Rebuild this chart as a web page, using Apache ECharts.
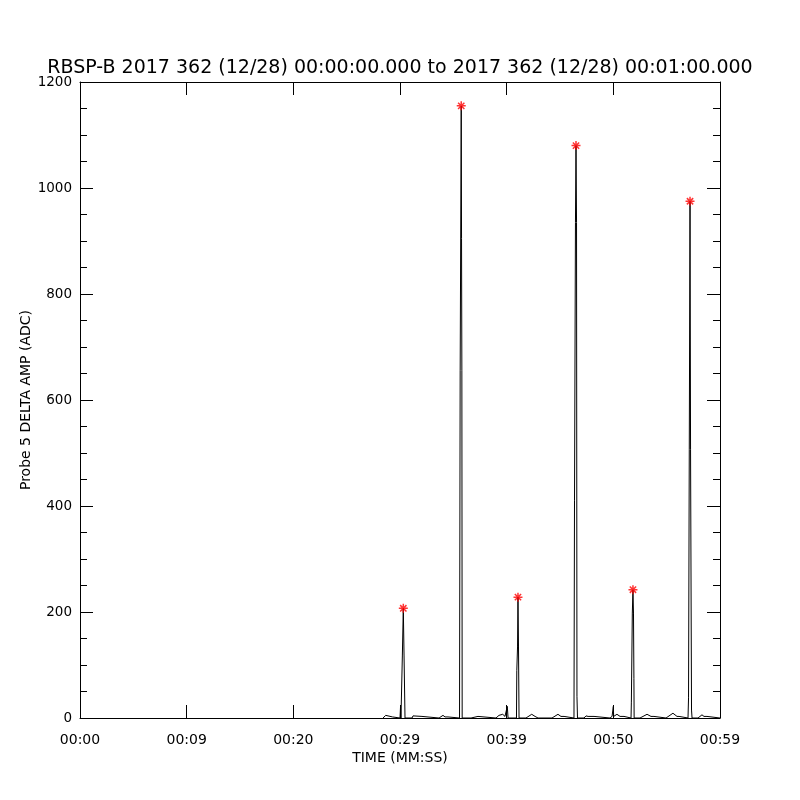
<!DOCTYPE html>
<html>
<head>
<meta charset="utf-8">
<script src="https://cdn.jsdelivr.net/npm/echarts@6/dist/echarts.min.js"></script>
<style>html,body{margin:0;padding:0;background:#fff;}#c{width:800px;height:800px;}</style>
</head>
<body>
<div id="c"></div>
<script>
// Time in seconds from 00:00:00, amplitude in ADC
var traceTime = [
  28.41, 28.66, 28.83, 29.30, 29.39,
  30.00, 30.05, 30.09,
  30.19, 30.22, 30.31, 30.38, 30.44, 30.47,
  31.13, 31.22, 31.31, 32.06, 32.16,
  33.66, 34.03, 34.22, 34.50, 34.59,
  35.58, 35.64, 35.74, 35.77, 35.80, 35.83,
  36.66, 36.75, 37.31, 37.41,
  39.00, 39.28, 39.63, 39.84, 39.98, 40.06, 40.13,
  40.92, 40.95, 41.02, 41.06, 41.11, 41.16,
  41.81, 42.35, 42.66, 42.84, 42.94,
  44.25, 44.81, 45.09, 45.38, 45.47,
  46.31, 46.36, 46.45, 46.50, 46.55, 46.59, 46.64,
  47.25, 47.44, 47.63, 48.19, 48.28,
  49.69, 49.88, 50.00, 50.03, 50.34, 50.63, 51.00, 51.09,
  51.66, 51.69, 51.78, 51.84, 51.89, 51.93, 51.95,
  52.50, 53.16, 53.53, 53.81, 53.91,
  54.94, 55.59, 55.97, 56.16, 56.25,
  57.00, 57.05, 57.12, 57.19, 57.24, 57.33, 57.38,
  57.94, 58.31, 58.50, 58.78, 58.88,
  60.00
];
var traceAmp = [
  0, 5, 2, 2, 0,
  0, 22, 0,
  0, 117, 207, 117, 117, 0,
  0, 4, 3, 3, 0,
  0, 5, 2, 2, 0,
  0, 655, 1155, 905, 655, 0,
  0, 3, 3, 0,
  0, 5, 7, 3, 3, 22, 0,
  0, 90, 134, 228, 134, 0,
  0, 7, 3, 3, 0,
  0, 7, 3, 3, 0,
  0, 411, 935, 1080, 935, 41, 0,
  0, 4, 3, 3, 0,
  0, 3, 22, 3, 7, 3, 3, 0,
  0, 30, 198, 242, 198, 75, 0,
  0, 7, 3, 3, 0,
  0, 9, 3, 3, 0,
  0, 38, 506, 975, 506, 15, 0,
  0, 6, 3, 3, 0,
  0
];
var peakTime = [30.31, 35.74, 41.06, 46.50, 51.84, 57.19];
var peakAmp = [207, 1155, 228, 1080, 242, 975];
var xTickValues = [0, 10, 20, 30, 40, 50, 60];
var xTickLabels = ['00:00', '00:09', '00:20', '00:29', '00:39', '00:50', '00:59'];
var titleText = 'RBSP-B 2017 362 (12/28) 00:00:00.000 to 2017 362 (12/28) 00:01:00.000';

var trace = traceTime.map(function (t, i) { return [t, traceAmp[i]]; });
var peaks = peakTime.map(function (t, i) { return [t, peakAmp[i]]; });

var FONT = 'DejaVu Sans';
var chart = echarts.init(document.getElementById('c'), null, {renderer: 'canvas'});
var xBase = {
  type: 'value', min: 0, max: 60, interval: 10,
  axisLine: {show: true, onZero: false, lineStyle: {color: '#000', width: 1}},
  axisTick: {show: true, inside: true, length: 13, lineStyle: {color: '#000'}},
  splitLine: {show: false}
};
var yBase = {
  type: 'value', min: 0, max: 1200, interval: 200,
  axisLine: {show: true, onZero: false, lineStyle: {color: '#000', width: 1}},
  axisTick: {show: true, inside: true, length: 13, lineStyle: {color: '#000'}},
  minorTick: {show: true, splitNumber: 4, length: 7, lineStyle: {color: '#000'}},
  splitLine: {show: false}
};
chart.setOption({
  animation: false,
  backgroundColor: '#fff',
  title: {
    text: titleText, left: 'center', top: 54,
    textStyle: {fontFamily: FONT, fontSize: 19, fontWeight: 'normal', color: '#000'}
  },
  grid: {left: 80, right: 80, top: 82, bottom: 82, show: false},
  xAxis: [
    Object.assign({}, xBase, {
      position: 'bottom',
      name: 'TIME (MM:SS)', nameLocation: 'middle', nameGap: 33,
      nameMoveOverlap: false,
      nameTextStyle: {fontFamily: FONT, fontSize: 14, color: '#000'},
      axisLabel: {
        show: true, margin: 15, color: '#000', fontFamily: FONT, fontSize: 14,
        formatter: function (v) { var i = xTickValues.indexOf(v); return i >= 0 ? xTickLabels[i] : ''; }
      }
    }),
    Object.assign({}, xBase, {position: 'top', axisLabel: {show: false}})
  ],
  yAxis: [
    Object.assign({}, yBase, {
      position: 'left',
      name: 'Probe 5 DELTA AMP (ADC)', nameLocation: 'middle', nameGap: 47,
      nameMoveOverlap: false,
      nameTextStyle: {fontFamily: FONT, fontSize: 14, color: '#000'},
      axisLabel: {show: true, margin: 8, color: '#000', fontFamily: FONT, fontSize: 13.5,
        formatter: function (v) { return String(v); }}
    }),
    Object.assign({}, yBase, {position: 'right', axisLabel: {show: false}})
  ],
  series: [
    {
      type: 'line', data: trace, xAxisIndex: 0, yAxisIndex: 0,
      showSymbol: false, symbol: 'none',
      lineStyle: {color: '#000', width: 1}, silent: true
    },
    {
      type: 'scatter', data: peaks, xAxisIndex: 0, yAxisIndex: 0,
      symbol: 'path://M0,-5L0,5M-5,0L5,0M-3.5,-3.5L3.5,3.5M-3.5,3.5L3.5,-3.5',
      symbolSize: 9,
      itemStyle: {color: 'rgba(0,0,0,0)', borderColor: '#ff0000', borderWidth: 1.5},
      z: 5
    }
  ]
});
</script>
</body>
</html>
